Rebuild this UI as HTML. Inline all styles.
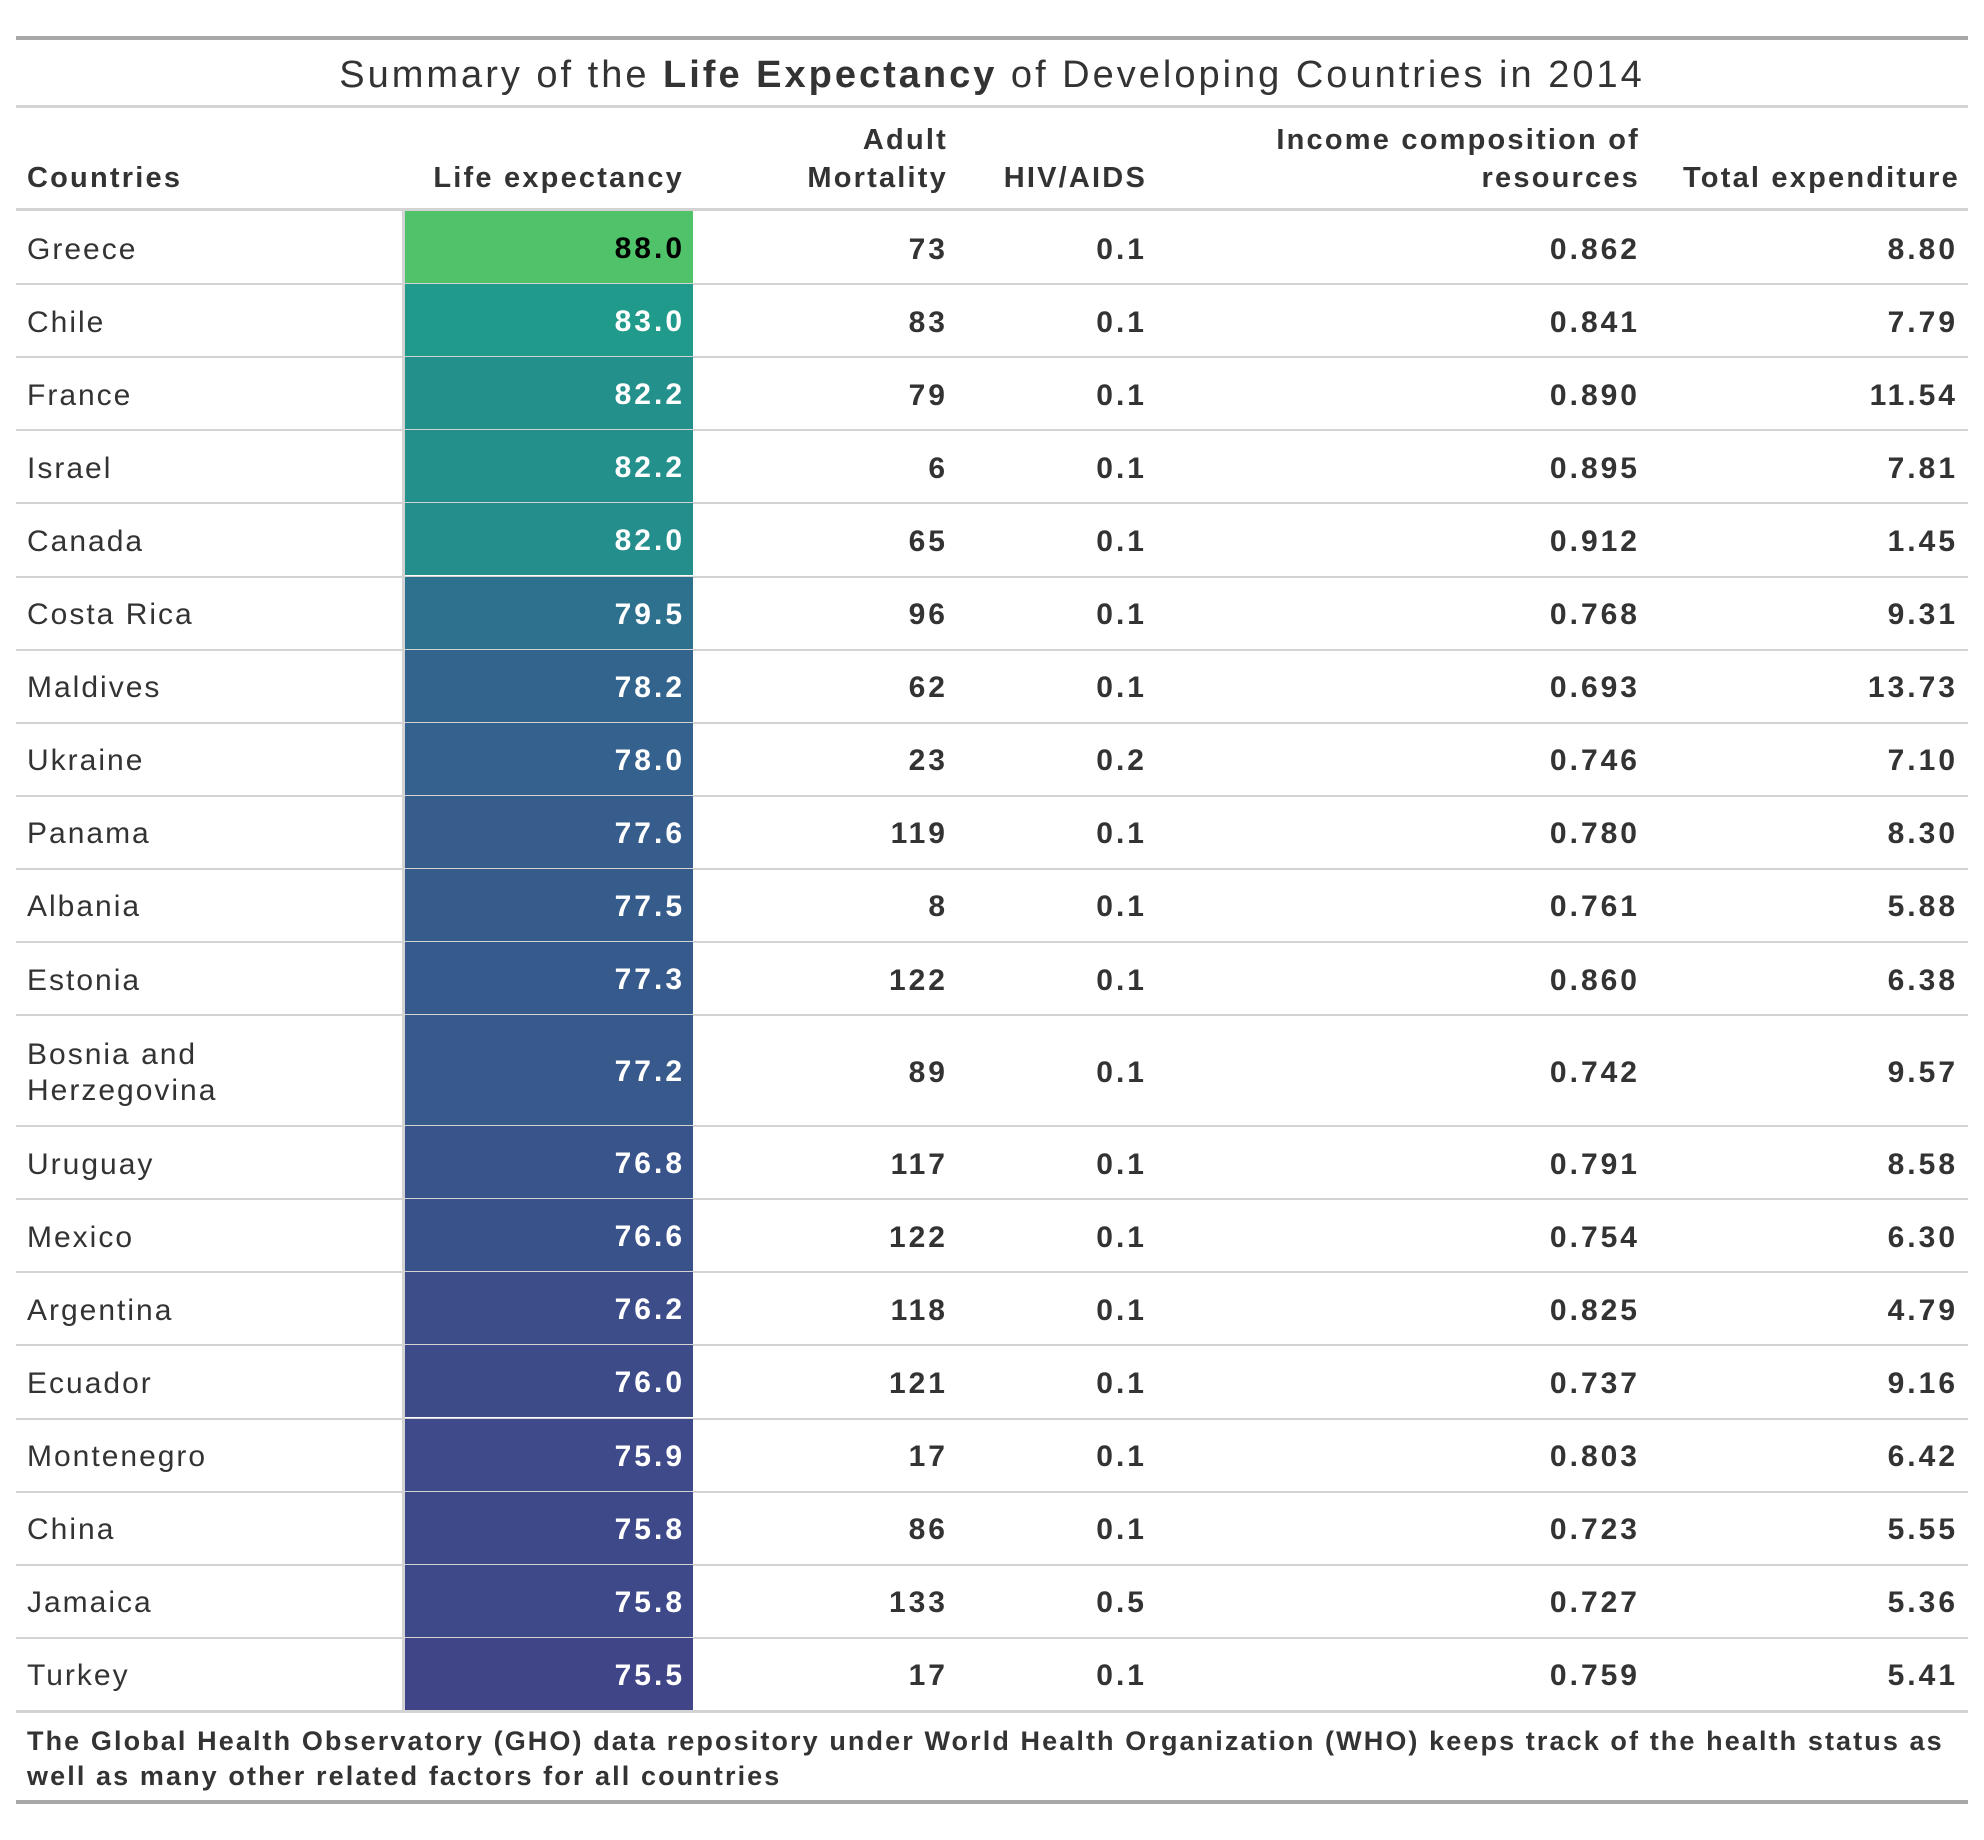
<!DOCTYPE html>
<html><head><meta charset="utf-8"><style>
body{margin:0;width:1984px;height:1840px;background:#fff;position:relative;font-family:"Liberation Sans",sans-serif;color:#333;overflow:hidden}
.abs{position:absolute}
.rule{position:absolute;left:16px;width:1952px}
.h{position:absolute;font-weight:bold;font-size:29px;line-height:38px;color:#333;letter-spacing:2.2px;white-space:nowrap}
.r{text-align:right}
.cell{position:absolute;font-size:30px;display:flex;align-items:center;letter-spacing:2px}
.num{font-weight:bold;justify-content:flex-end;letter-spacing:3px}
</style></head><body>
<div class="rule" style="top:36px;height:4px;background:#a8a8a8"></div>
<div class="abs" style="left:0;width:1984px;top:52px;text-align:center;font-size:38px;line-height:46px;color:#333;letter-spacing:3px">Summary of the <b>Life Expectancy</b> of Developing Countries in 2014</div>
<div class="rule" style="top:105px;height:3px;background:#d3d3d3"></div>
<div class="h" style="left:27px;top:159px">Countries</div>
<div class="h r" style="right:1300px;top:159px">Life expectancy</div>
<div class="h r" style="right:1036px;top:121px">Adult<br>Mortality</div>
<div class="h r" style="right:837px;top:159px">HIV/AIDS</div>
<div class="h r" style="right:344px;top:121px">Income composition of<br>resources</div>
<div class="h r" style="right:24px;top:159px">Total expenditure</div>
<div class="rule" style="top:208px;height:3px;background:#d3d3d3"></div>
<div id="rows"></div>
<div class="abs" style="left:27px;top:1724px;width:1945px;font-weight:bold;font-size:27px;line-height:35px;color:#333;letter-spacing:2.1px;white-space:nowrap">The Global Health Observatory (GHO) data repository under World Health Organization (WHO) keeps track of the health status as<br>well as many other related factors for all countries</div>
<div class="rule" style="top:1800px;height:4px;background:#a8a8a8"></div>
<script>
const countries=["Greece","Chile","France","Israel","Canada","Costa Rica","Maldives","Ukraine","Panama","Albania","Estonia","Bosnia and Herzegovina","Uruguay","Mexico","Argentina","Ecuador","Montenegro","China","Jamaica","Turkey"];
const lifeExp=[88.0,83.0,82.2,82.2,82.0,79.5,78.2,78.0,77.6,77.5,77.3,77.2,76.8,76.6,76.2,76.0,75.9,75.8,75.8,75.5];
const adultMortality=[73,83,79,6,65,96,62,23,119,8,122,89,117,122,118,121,17,86,133,17];
const hivAids=[0.1,0.1,0.1,0.1,0.1,0.1,0.1,0.2,0.1,0.1,0.1,0.1,0.1,0.1,0.1,0.1,0.1,0.1,0.5,0.1];
const income=[0.862,0.841,0.890,0.895,0.912,0.768,0.693,0.746,0.780,0.761,0.860,0.742,0.791,0.754,0.825,0.737,0.803,0.723,0.727,0.759];
const totalExp=[8.80,7.79,11.54,7.81,1.45,9.31,13.73,7.10,8.30,5.88,6.38,9.57,8.58,6.30,4.79,9.16,6.42,5.55,5.36,5.41];

const vir=["#440154","#482878","#3e4989","#31688e","#26828e","#1f9e89","#35b779","#6ece58","#b5de2b","#fde725"];
function hex(c){return [1,3,5].map(i=>parseInt(c.substr(i,2),16));}
function viridis(t){t=Math.max(0,Math.min(1,t));const p=t*9,i=Math.min(8,Math.floor(p)),f=p-i;const a=hex(vir[i]),b=hex(vir[i+1]);return "rgb("+a.map((v,k)=>Math.round(v+(b[k]-v)*f)).join(",")+")";}
const kv=[75.5,79.5,82.2,83,88],kt=[0.21,0.37,0.5,0.54,0.72];
function colorScale(v){for(let i=0;i<kv.length-1;i++){if(v<=kv[i+1]||i==kv.length-2){const f=(v-kv[i])/(kv[i+1]-kv[i]);return viridis(kt[i]+f*(kt[i+1]-kt[i]));}}}

const body=document.getElementById('rows');
let y=211;
countries.forEach((c,i)=>{
  const h=c.length>20?111:73.1;
  const mk=(cls,left,width,txt,name)=>{
    const d=document.createElement('div');
    d.className='cell '+cls;
    d.style.left=left+'px';d.style.width=width+'px';d.style.top=(y+3)+'px';d.style.height=(h-2)+'px';
    d.innerHTML=txt;
    
    
    body.appendChild(d);return d;
  };
  const n=mk('',27,370,c==="Bosnia and Herzegovina"?"Bosnia and<br>Herzegovina":c,'country-name');
  n.style.lineHeight='36px';
  const sep=document.createElement('div');
  sep.className='abs';sep.style.left='402px';sep.style.width='3px';sep.style.top=y+'px';sep.style.height=h+'px';sep.style.background='#d3d3d3';
  
  
  body.appendChild(sep);
  const b=mk('num',405,288,lifeExp[i].toFixed(1),'life-expectancy-cell');
  b.style.top=y+'px';b.style.height=(h-1)+'px';b.style.paddingTop='4px';
  b.style.background=colorScale(lifeExp[i]);b.style.color=i===0?'#000':'#fff';b.style.paddingRight='8px';b.style.boxSizing='border-box';
  mk('num',700,248,String(adultMortality[i]),'adult-mortality-cell');
  mk('num',950,197,hivAids[i].toFixed(1),'hiv-aids-cell');
  mk('num',1150,490,income[i].toFixed(3),'income-composition-cell');
  mk('num',1645,313,totalExp[i].toFixed(2),'total-expenditure-cell');
  y+=h;
  const r=document.createElement('div');
  r.className='rule';r.style.top=(y-1)+'px';r.style.height=(i==countries.length-1?3:2)+'px';r.style.background='#d3d3d3';
  
  
  body.appendChild(r);
});
</script>
</body></html>
